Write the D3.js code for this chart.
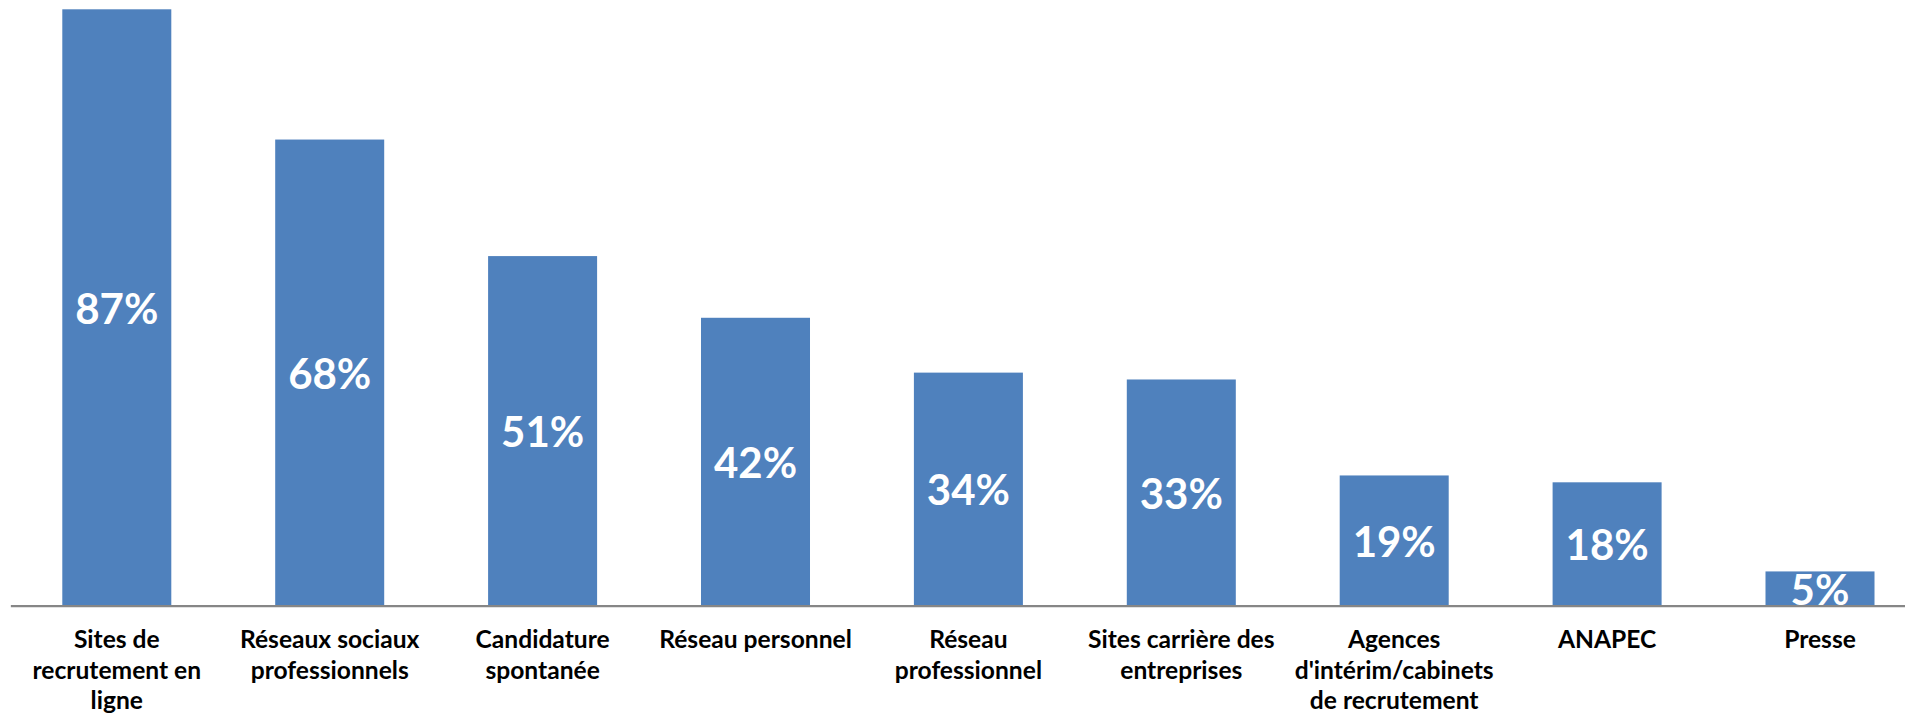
<!DOCTYPE html>
<html>
<head>
<meta charset="utf-8">
<script src="https://cdn.jsdelivr.net/npm/d3@7/dist/d3.min.js"></script>
<style>
  html, body { margin: 0; padding: 0; background: #ffffff; overflow: hidden; }
  svg { display: block; }
</style>
</head>
<body>
<svg id="chart" width="1905" height="718"></svg>
<script>
const categories = [
  "Sites de\nrecrutement en\nligne",
  "Réseaux sociaux\nprofessionnels",
  "Candidature\nspontanée",
  "Réseau personnel",
  "Réseau\nprofessionnel",
  "Sites carrière des\nentreprises",
  "Agences\nd'intérim/cabinets\nde recrutement",
  "ANAPEC",
  "Presse"
];
const values = [87, 68, 51, 42, 34, 33, 19, 18, 5];
const valueLabels = ["87%", "68%", "51%", "42%", "34%", "33%", "19%", "18%", "5%"];

const svg = d3.select("#chart");
const plotLeft = 10.35, plotRight = 1926.45;
const baseY = 605.7, topY = 9.3;

const x = d3.scaleBand()
  .domain(categories)
  .range([plotLeft, plotRight])
  .paddingInner(0.488)
  .paddingOuter(0.244);

const y = d3.scaleLinear()
  .domain([0, 87])
  .range([baseY, topY]);

const data = categories.map((c, i) => ({ cat: c, v: values[i], label: valueLabels[i] }));

svg.append("g").selectAll("rect")
  .data(data)
  .join("rect")
  .attr("x", d => x(d.cat))
  .attr("y", d => y(d.v))
  .attr("width", x.bandwidth())
  .attr("height", d => y(0) - y(d.v))
  .attr("fill", "#4f81bd");

// axis line
const xAxis = d3.axisBottom(x).tickSize(0).tickFormat("");
const axisG = svg.append("g").attr("transform", `translate(0,${baseY})`).call(xAxis);
axisG.select(".domain").attr("stroke", "#868686").attr("stroke-width", 2.2);

// value labels
svg.append("g").selectAll("text")
  .data(data)
  .join("text")
  .attr("x", d => x(d.cat) + x.bandwidth() / 2)
  .attr("y", d => (y(d.v) + y(0)) / 2)
  .attr("text-anchor", "middle")
  .attr("dominant-baseline", "central")
  .attr("font-family", "Lato, 'Open Sans', sans-serif")
  .attr("font-weight", "bold")
  .attr("font-size", 42)
  .attr("fill", "#ffffff")
  .text(d => d.label);

// category labels
const catG = svg.append("g").selectAll("text")
  .data(data)
  .join("text")
  .attr("x", d => x(d.cat) + x.bandwidth() / 2)
  .attr("y", 648)
  .attr("text-anchor", "middle")
  .attr("font-family", "Lato, 'Open Sans', sans-serif")
  .attr("font-weight", "bold")
  .attr("font-size", 24.6)
  .attr("fill", "#000000");

catG.each(function(d) {
  const t = d3.select(this);
  const cx = x(d.cat) + x.bandwidth() / 2;
  d.cat.split("\n").forEach((line, i) => {
    t.append("tspan").attr("x", cx).attr("dy", i === 0 ? 0 : 30.5).text(line);
  });
});
</script>
</body>
</html>
